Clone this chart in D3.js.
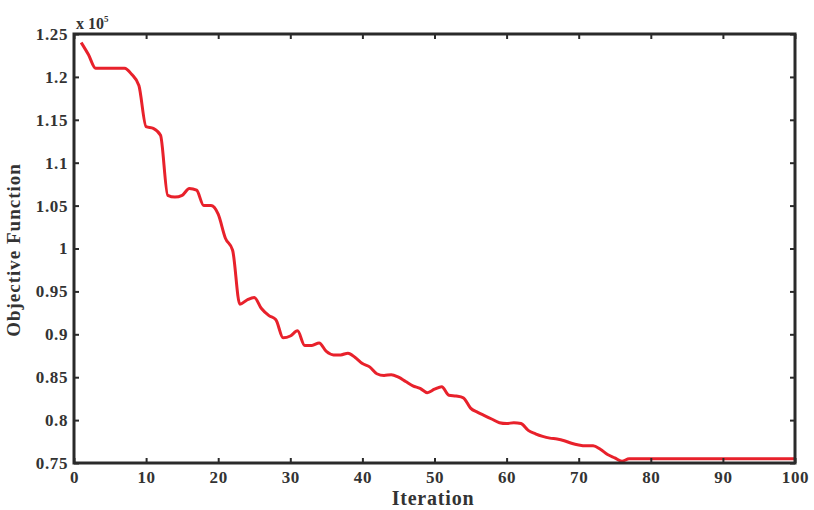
<!DOCTYPE html>
<html>
<head>
<meta charset="utf-8">
<script src="https://cdn.jsdelivr.net/npm/d3@7"></script>
<style>
  body { margin: 0; background: #fff; }
  svg text { font-family: "Liberation Serif", "Times New Roman", serif; font-weight: bold; fill: #333; }
</style>
</head>
<body>
<svg width="814" height="510"></svg>
<script>
// objective function value (x 10^5) per iteration
var iterations = d3.range(1, 101);
var objective = [
  1.240, 1.226, 1.210, 1.210, 1.210, 1.210, 1.210, 1.203, 1.190, 1.142,
  1.140, 1.132, 1.062, 1.060, 1.062, 1.070, 1.068, 1.050, 1.050, 1.040,
  1.012, 0.998, 0.935, 0.940, 0.943, 0.930, 0.922, 0.917, 0.896, 0.898,
  0.904, 0.887, 0.887, 0.890, 0.880, 0.876, 0.876, 0.878, 0.873, 0.866,
  0.862, 0.854, 0.852, 0.853, 0.850, 0.845, 0.840, 0.837, 0.832, 0.836,
  0.839, 0.829, 0.828, 0.826, 0.814, 0.809, 0.805, 0.801, 0.797, 0.796,
  0.797, 0.796, 0.788, 0.784, 0.781, 0.779, 0.778, 0.776, 0.773, 0.771,
  0.770, 0.770, 0.766, 0.760, 0.756, 0.752, 0.755, 0.755, 0.755, 0.755,
  0.755, 0.755, 0.755, 0.755, 0.755, 0.755, 0.755, 0.755, 0.755, 0.755,
  0.755, 0.755, 0.755, 0.755, 0.755, 0.755, 0.755, 0.755, 0.755, 0.755
];
var xTicks = [0, 10, 20, 30, 40, 50, 60, 70, 80, 90, 100];
var yTicks = [0.75, 0.8, 0.85, 0.9, 0.95, 1, 1.05, 1.1, 1.15, 1.2, 1.25];

var svg = d3.select("svg"),
  margin = {top: 34, right: 19, bottom: 47, left: 74},
  width = +svg.attr("width") - margin.left - margin.right,
  height = +svg.attr("height") - margin.top - margin.bottom;

var x = d3.scaleLinear().domain([0, 100]).range([0, width]),
  y = d3.scaleLinear().domain([0.75, 1.25]).range([height, 0]);

var g = svg.append("g")
  .attr("transform", "translate(" + margin.left + "," + margin.top + ")");

var data = iterations.map(function(d, i) { return {it: d, v: objective[i]}; });

g.append("path")
  .datum(data)
  .attr("fill", "none")
  .attr("stroke", "#e8212b")
  .attr("stroke-width", 3)
  .attr("stroke-linejoin", "round")
  .attr("d", d3.line()
    .x(function(d) { return x(d.it); })
    .y(function(d) { return y(d.v); })
    .curve(d3.curveMonotoneX));

// box axes, matlab style: ticks point inward on all four sides
function styleAxis(sel) {
  sel.select(".domain").remove();
  sel.selectAll(".tick line").attr("stroke", "#2a2a2a").attr("stroke-width", 2);
  sel.selectAll(".tick text").attr("font-size", 17).attr("letter-spacing", 0.6);
}

g.append("g")
  .attr("transform", "translate(0," + height + ")")
  .call(d3.axisBottom(x).tickValues(xTicks).tickSize(-5).tickPadding(8).tickFormat(d3.format("d")))
  .call(styleAxis);

g.append("g")
  .call(d3.axisTop(x).tickValues(xTicks).tickSize(-5).tickFormat(""))
  .call(styleAxis);

g.append("g")
  .call(d3.axisLeft(y).tickValues(yTicks).tickSize(-5).tickPadding(6).tickFormat(function(d) { return d3.format("")(+d.toFixed(2)); }))
  .call(styleAxis);

g.append("g")
  .attr("transform", "translate(" + width + ",0)")
  .call(d3.axisRight(y).tickValues(yTicks).tickSize(-5).tickFormat(""))
  .call(styleAxis);

g.append("rect")
  .attr("width", width)
  .attr("height", height)
  .attr("fill", "none")
  .attr("stroke", "#2a2a2a")
  .attr("stroke-width", 3);

// exponent label
var expo = g.append("text")
  .attr("x", 2)
  .attr("y", -5)
  .attr("font-size", 16);
expo.append("tspan").text("x 10");
expo.append("tspan").attr("font-size", 9).attr("dy", -7).text("5");

g.append("text")
  .attr("x", 359)
  .attr("y", height + 42)
  .attr("text-anchor", "middle")
  .attr("font-size", 20)
  .attr("letter-spacing", 0.8)
  .text("Iteration");

g.append("text")
  .attr("transform", "rotate(-90)")
  .attr("x", -(250 - margin.top))
  .attr("y", -54)
  .attr("text-anchor", "middle")
  .attr("font-size", 19)
  .attr("letter-spacing", 1)
  .text("Objective Function");
</script>
</body>
</html>
